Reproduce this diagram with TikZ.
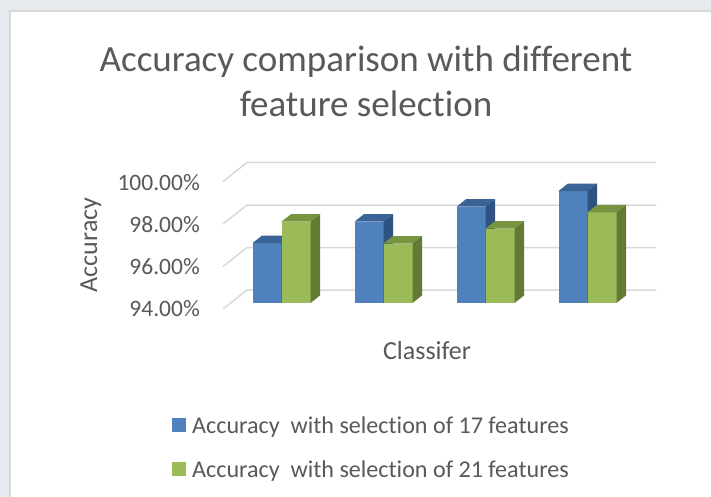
\documentclass[tikz,border=0pt]{standalone}
\usepackage{fontspec}
\setmainfont{Carlito}[Ligatures=NoCommon]
\definecolor{txt}{HTML}{595959}
\definecolor{gridc}{HTML}{D9D9D9}
\definecolor{bfront}{HTML}{4F81BD}
\definecolor{btop}{HTML}{3B6396}
\definecolor{bside}{HTML}{2F5283}
\definecolor{gfront}{HTML}{9BBB59}
\definecolor{gtop}{HTML}{779440}
\definecolor{gside}{HTML}{637A35}
\definecolor{bgc}{HTML}{E6E9EE}
\newcommand{\mybar}[5]{%
  \pgfmathsetmacro{\yt}{303-(#2-94)*21.25}%
  \pgfmathsetmacro{\xr}{#1+29}%
  \pgfmathsetmacro{\xs}{#1+29+9.5}%
  \pgfmathsetmacro{\xl}{#1+9.5}%
  \pgfmathsetmacro{\yb}{\yt-7.5}%
  \fill[#3] (#1,303) rectangle (\xr,\yt);
  \fill[#4] (#1,\yt) -- (\xl,\yb) -- (\xs,\yb) -- (\xr,\yt) -- cycle;
  \fill[#5] (\xr,\yt) -- (\xs,\yb) -- (\xs,295.5) -- (\xr,303) -- cycle;
}
\tikzset{
  lbl/.style={text=txt, inner sep=0pt, font=\fontsize{23.5}{28}\selectfont},
  leg/.style={text=txt, inner sep=0pt, font=\fontsize{24.1}{29}\selectfont},
  ttl/.style={text=txt, inner sep=0pt, font=\fontsize{37}{44}\selectfont},
  axt/.style={text=txt, inner sep=0pt, font=\fontsize{26}{31}\selectfont},
  gline/.style={draw=gridc, line width=1.5pt}
}
\begin{document}
\begin{tikzpicture}[x=1pt,y=-1pt]
  \useasboundingbox (0,0) rectangle (711,497);
  \fill[bgc] (0,0) rectangle (711,497);
  \fill[white] (10,11) rectangle (720,510);
  \draw[gridc, line width=1.5pt] (10,510) -- (10,11) -- (720,11);
  % gridlines
  \foreach \v in {94,96,98,100} {
    \pgfmathsetmacro{\yg}{290-(\v-94)*21.25}
    \pgfmathsetmacro{\yf}{\yg+19}
    \draw[gline] (223,\yf) -- (247,\yg) -- (656,\yg);
  }
  % tick labels
  \node[lbl, anchor=east] (t100) at (200,183) {100.00\%};
  \node[lbl, anchor=east] (t98) at (200,225) {98.00\%};
  \node[lbl, anchor=east] (t96) at (200,267) {96.00\%};
  \node[lbl, anchor=east] (t94) at (200,309) {94.00\%};
  % bars
  \mybar{252.5}{96.82}{bfront}{btop}{bside}
  \mybar{281.5}{97.83}{gfront}{gtop}{gside}
  \mybar{354.5}{97.83}{bfront}{btop}{bside}
  \mybar{383.5}{96.80}{gfront}{gtop}{gside}
  \mybar{456.5}{98.53}{bfront}{btop}{bside}
  \mybar{485.5}{97.50}{gfront}{gtop}{gside}
  \mybar{558.5}{99.27}{bfront}{btop}{bside}
  \mybar{587.5}{98.27}{gfront}{gtop}{gside}
  % titles
  \node[ttl, anchor=base] (title1) at (366,72) {Accuracy comparison with different};
  \node[ttl, anchor=base] (title2) at (366,117) {feature selection};
  \node[axt, anchor=base] (xt) at (427,359) {Classifer};
  \node[axt, rotate=90] (yt) at (91,245) {Accuracy};
  % legend
  \fill[bfront] (172,418) rectangle (186,432);
  \fill[gfront] (172,462) rectangle (186,476);
  \node[leg, anchor=base west] (leg1) at (192,433) {Accuracy\hspace{0.45em}with selection of 17 features};
  \node[leg, anchor=base west] (leg2) at (192,477) {Accuracy\hspace{0.45em}with selection of 21 features};
\end{tikzpicture}
\end{document}
